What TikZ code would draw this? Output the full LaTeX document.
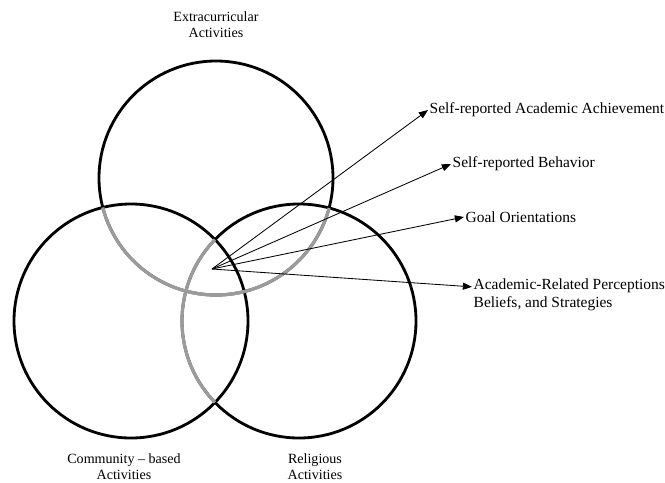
\documentclass[tikz,border=0pt]{standalone}
\usepackage{fontspec}
\setmainfont{Liberation Serif}
\usetikzlibrary{arrows.meta,positioning}
\definecolor{vennGrey}{RGB}{155,155,155}

\begin{document}
\begin{tikzpicture}[
  x=0.025cm,
  y=-0.025cm,
  ring/.style={
    line width=2pt
  },
  faded/.style={line width=2.3pt,vennGrey},
  arrow/.style={-{Triangle[length=6.5pt,width=5pt]},line width=0.6pt},
  setname/.style={align=center,inner sep=0pt,font=\fontsize{10}{11.5}\selectfont},
  outcome/.style={anchor=west,align=left,inner sep=1pt,font=\fontsize{11}{12.5}\selectfont}
]
  \useasboundingbox (0,0) rectangle (665,482);
  \coordinate (extra) at (216,178);
  \coordinate (comm) at (131,321);
  \coordinate (relig) at (299,321);
  \draw[ring] (extra) circle[radius=117];
  \draw[ring] (comm) circle[radius=117];
  \draw[ring] (relig) circle[radius=117];
  \begin{scope}
    \clip (comm) circle[radius=117];
    \draw[faded] (extra) circle[radius=117];
    \draw[faded] (relig) circle[radius=117];
  \end{scope}
  \begin{scope}
    \clip (relig) circle[radius=117];
    \draw[faded] (extra) circle[radius=117];
  \end{scope}

  \node[setname] (extraName) at (216,25) {Extracurricular\\Activities};
  \node[setname] (commName) at (124,467) {Community -- based\\Activities};
  \node[setname] (religName) at (315,467) {Religious\\Activities};

  \coordinate (hub) at (212,269);
  \node[outcome] (achieve) at (428,110) {Self-reported Academic Achievement};
  \node[outcome] (behave) at (451,164) {Self-reported Behavior};
  \node[outcome] (goal) at (464,217) {Goal Orientations};
  \node[outcome,anchor=north west] (percept) at (472,277)
    {Academic-Related Perceptions\\Beliefs, and Strategies};
  \draw[arrow] (hub) -- (achieve.west);
  \draw[arrow] (hub) -- (behave.west);
  \draw[arrow] (hub) -- (goal.west);
  \draw[arrow] (hub) -- ([yshift=-7pt]percept.north west);
\end{tikzpicture}
\end{document}
